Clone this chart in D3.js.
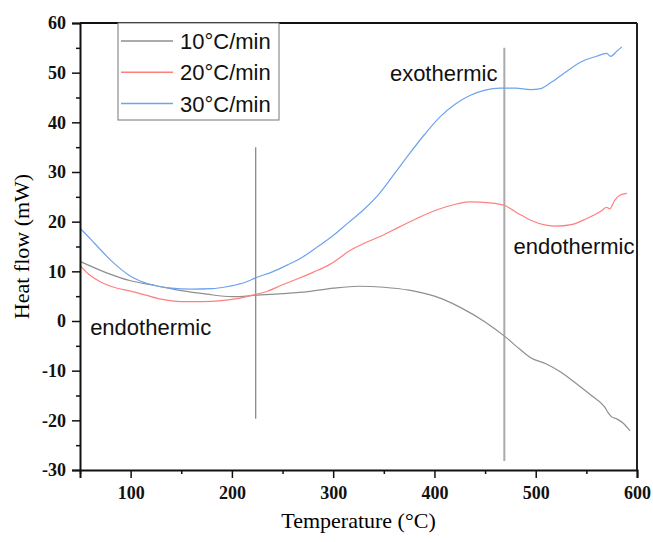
<!DOCTYPE html>
<html>
<head>
<meta charset="utf-8">
<script src="https://cdn.jsdelivr.net/npm/d3@7"></script>
<style>
  body { margin: 0; background: #fff; }
  svg { display: block; }
  .serif { font-family: "Times New Roman", "Liberation Serif", "DejaVu Serif", serif; }
  .sans { font-family: "Liberation Sans", Arial, sans-serif; }
</style>
</head>
<body>
<svg width="653" height="542"></svg>
<script>
// heating rates
var seriesNames = ["10\u00b0C/min", "20\u00b0C/min", "30\u00b0C/min"];
var seriesColors = ["#8f8f8f", "#ff7f7f", "#6ea3ee"];

// temperature (°C), heat flow (mW)
var gray10 = [
  [50, 12.0], [75, 9.8], [100, 8.1], [125, 7.1], [150, 6.1], [175, 5.4], [200, 4.9],
  [225, 5.2], [250, 5.5], [275, 5.9], [300, 6.6], [325, 7.0], [350, 6.8], [375, 6.2],
  [400, 5.0], [425, 2.8], [450, -0.2], [470, -3.2], [485, -5.8], [495, -7.4],
  [510, -8.6], [525, -10.3], [540, -12.6], [555, -15.0], [568, -17.3], [572, -18.6],
  [575, -19.3], [580, -19.7], [587, -20.7], [593, -22.1]
];
var red20 = [
  [50, 11.2], [58, 9.5], [70, 7.9], [85, 6.7], [100, 6.0], [115, 5.2], [130, 4.4],
  [150, 3.9], [170, 3.9], [190, 4.1], [205, 4.5], [220, 5.2], [235, 6.0], [250, 7.3],
  [265, 8.5], [280, 9.8], [295, 11.2], [305, 12.5], [315, 14.0], [330, 15.6],
  [345, 16.9], [365, 18.9], [385, 20.9], [410, 22.9], [435, 24.0], [455, 23.8],
  [470, 23.2], [483, 21.6], [495, 20.3], [510, 19.3], [520, 19.1], [535, 19.4],
  [550, 20.6], [565, 22.2], [570, 22.9], [573, 22.6], [578, 24.3], [583, 25.3], [590, 25.7]
];
var blue30 = [
  [50, 18.7], [60, 16.6], [70, 14.4], [80, 12.3], [90, 10.5], [100, 9.0], [110, 8.0],
  [125, 7.1], [140, 6.6], [160, 6.4], [180, 6.5], [195, 6.9], [210, 7.6], [225, 8.8],
  [240, 9.9], [255, 11.3], [270, 12.9], [285, 15.0], [300, 17.2], [315, 19.8],
  [330, 22.4], [345, 25.5], [360, 29.5], [375, 33.6], [390, 37.5], [405, 41.0],
  [420, 43.6], [435, 45.4], [450, 46.5], [465, 46.9], [480, 46.9], [495, 46.6],
  [505, 46.8], [515, 48.0], [530, 50.2], [545, 52.2], [560, 53.3], [570, 53.9],
  [574, 53.3], [580, 54.3], [585, 55.2]
];

// vertical marker lines: [temperature, from, to]
var markers = [[223.5, -19.7, 35], [469, -28.2, 55]];

// annotations: [text, temperature, heat flow]
var notes = [["endothermic", 60, -2.9], ["exothermic", 356, 48.3], ["endothermic", 478, 13.5]];

var xTicks = d3.range(50, 601, 50);
var yTicks = d3.range(-30, 61, 5);

var svg = d3.select("svg");
var m = {top: 23, right: 16, bottom: 72, left: 80};
var W = 653 - m.left - m.right, H = 542 - m.top - m.bottom;

var x = d3.scaleLinear().domain([50, 600]).range([0, W]);
var y = d3.scaleLinear().domain([-30, 60]).range([H, 0]);

var g = svg.append("g").attr("transform", "translate(" + m.left + "," + m.top + ")");

// frame top + right
g.append("line").attr("x1", 0).attr("x2", W).attr("y1", 0).attr("y2", 0)
  .attr("stroke", "#111").attr("stroke-width", 2);
g.append("line").attr("x1", W).attr("x2", W).attr("y1", 0).attr("y2", H)
  .attr("stroke", "#222").attr("stroke-width", 2);

// markers
markers.forEach(function (d, i) {
  g.append("line")
    .attr("x1", x(d[0])).attr("x2", x(d[0]))
    .attr("y1", y(d[1])).attr("y2", y(d[2]))
    .attr("stroke", i == 0 ? "#808080" : "#aaaaaa")
    .attr("stroke-width", i == 0 ? 1.2 : 2);
});

// curves
var line = d3.line()
  .x(function (d) { return x(d[0]); })
  .y(function (d) { return y(d[1]); })
  .curve(d3.curveMonotoneX);

[gray10, red20, blue30].forEach(function (s, i) {
  g.append("path").datum(s)
    .attr("d", line)
    .attr("fill", "none")
    .attr("stroke", seriesColors[i])
    .attr("stroke-width", 1.2);
});

// axes
var xAxis = g.append("g").attr("transform", "translate(0," + H + ")")
  .call(d3.axisBottom(x).tickValues(xTicks).tickSize(8).tickPadding(8)
    .tickFormat(function (d) { return d % 100 == 0 ? String(d) : ""; }));
var yAxis = g.append("g")
  .call(d3.axisLeft(y).tickValues(yTicks).tickSize(8).tickPadding(6)
    .tickFormat(function (d) { return d % 10 == 0 ? String(d) : ""; }));

[xAxis, yAxis].forEach(function (a) {
  a.attr("font-family", null).attr("font-size", null);
  a.select(".domain").attr("stroke", "#111").attr("stroke-width", 2);
  a.selectAll(".tick line").attr("stroke", "#111").attr("stroke-width", 1.5);
  a.selectAll("text")
    .attr("class", "serif")
    .style("font-weight", "bold")
    .style("font-size", "18px")
    .attr("fill", "#111");
});
xAxis.selectAll(".tick").filter(function (d) { return d % 100 != 0; })
  .select("line").attr("y2", 4);
yAxis.selectAll(".tick").filter(function (d) { return d % 10 != 0; })
  .select("line").attr("x2", -4);

// axis titles
svg.append("text")
  .attr("class", "serif")
  .attr("x", m.left + W / 2).attr("y", 528)
  .attr("text-anchor", "middle")
  .style("font-size", "22px")
  .text("Temperature (\u00b0C)");
svg.append("text")
  .attr("class", "serif")
  .attr("transform", "translate(29," + (m.top + H / 2) + ") rotate(-90)")
  .attr("text-anchor", "middle")
  .style("font-size", "22px")
  .text("Heat flow (mW)");

// annotations
notes.forEach(function (d) {
  g.append("text")
    .attr("class", "sans")
    .attr("x", x(d[1])).attr("y", y(d[2]))
    .style("font-size", "22px")
    .attr("fill", "#111")
    .text(d[0]);
});

// legend
var leg = svg.append("g").attr("transform", "translate(118,23)");
leg.append("rect").attr("width", 161).attr("height", 97)
  .attr("fill", "#fff").attr("stroke", "#777").attr("stroke-width", 1);
seriesNames.forEach(function (n, i) {
  var yy = 18 + i * 31.3;
  leg.append("line").attr("x1", 3).attr("x2", 55).attr("y1", yy).attr("y2", yy)
    .attr("stroke", seriesColors[i]).attr("stroke-width", 1.5);
  leg.append("text").attr("class", "sans").attr("x", 62).attr("y", yy + 8)
    .style("font-size", "22px")
    .attr("fill", "#111")
    .text(n);
});
</script>
</body>
</html>
